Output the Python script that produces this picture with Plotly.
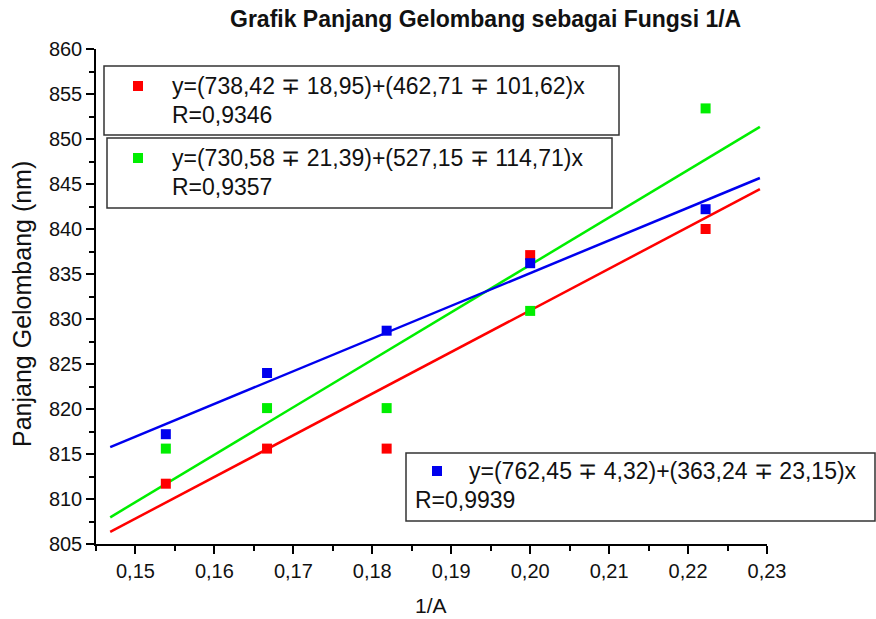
import plotly.graph_objects as go

# ---- data ----
x_vals = [1/6.5, 1/6, 1/5.5, 1/5, 1/4.5]
red_y = [811.7, 815.6, 815.6, 837.1, 840.0]
green_y = [815.6, 820.1, 820.1, 830.9, 853.4]
blue_y = [817.2, 824.0, 828.7, 836.2, 842.2]

fit_x_range = [0.1468, 0.2291]
red_fit = (738.42, 462.71)
green_fit = (730.58, 527.15)
blue_fit = (762.45, 363.24)

red_label = ["y=(738,42 ∓ 18,95)+(462,71 ∓ 101,62)x", "R=0,9346"]
green_label = ["y=(730,58 ∓ 21,39)+(527,15 ∓ 114,71)x", "R=0,9357"]
blue_label = ["y=(762,45 ∓ 4,32)+(363,24 ∓ 23,15)x", "R=0,9939"]

x_ticks = [0.15, 0.16, 0.17, 0.18, 0.19, 0.20, 0.21, 0.22, 0.23]
y_ticks = [805, 810, 815, 820, 825, 830, 835, 840, 845, 850, 855, 860]

RED, GREEN, BLUE = "#ff0000", "#00ee00", "#0000ee"

W, H = 876, 619
L, R, T, B = 96, 109, 49, 75
pw, ph = W - L - R, H - T - B
FAM = "Liberation Sans, Arial, sans-serif"


def px(xp):
    return (xp - L) / pw


def py(yp):
    return 1 - (yp - T) / ph


fig = go.Figure()

for (b, m), col in [(red_fit, RED), (green_fit, GREEN), (blue_fit, BLUE)]:
    fig.add_trace(go.Scatter(
        x=fit_x_range, y=[b + m * xx for xx in fit_x_range], mode="lines",
        line=dict(color=col, width=2.5), showlegend=False, hoverinfo="skip"))

for ys, col in [(green_y, GREEN), (red_y, RED), (blue_y, BLUE)]:
    fig.add_trace(go.Scatter(
        x=x_vals, y=ys, mode="markers",
        marker=dict(symbol="square", size=10, color=col, line=dict(width=0)),
        showlegend=False))

shapes = []
annos = []
font = dict(family=FAM, size=23, color="#111")
boxes = [
    (104, 66, 619, 135, RED, red_label, 138, 86, 170, 170),
    (107, 138, 612, 208, GREEN, green_label, 138, 158, 170, 170),
    (406, 453, 875, 521, BLUE, blue_label, 437, 471, 467, 413),
]
for x0, y0, x1, y1, col, lab, sx, sy, tx, tx2 in boxes:
    shapes.append(dict(type="rect", xref="paper", yref="paper",
                       x0=px(x0), x1=px(x1), y0=py(y1), y1=py(y0),
                       line=dict(color="#333", width=1.5), fillcolor="white", layer="above"))
    shapes.append(dict(type="rect", xref="paper", yref="paper",
                       x0=px(sx - 5), x1=px(sx + 5), y0=py(sy + 5), y1=py(sy - 5),
                       line=dict(width=0), fillcolor=col, layer="above"))
    annos.append(dict(xref="paper", yref="paper", x=px(tx), y=py(sy), text=lab[0],
                      showarrow=False, xanchor="left", yanchor="middle", font=font))
    annos.append(dict(xref="paper", yref="paper", x=px(tx2), y=py(sy + 29),
                      text=lab[1], showarrow=False, xanchor="left", yanchor="middle", font=font))

annos.append(dict(xref="paper", yref="paper", x=px(485), y=py(19),
                  text="<b>Grafik Panjang Gelombang sebagai Fungsi 1/A</b>", showarrow=False,
                  xanchor="center", yanchor="middle",
                  font=dict(family=FAM, size=23, color="#111")))
# axis titles
annos.append(dict(xref="paper", yref="paper", x=px(431), y=py(605), text="1/A",
                  showarrow=False, xanchor="center", yanchor="middle",
                  font=dict(family=FAM, size=21, color="#111")))
annos.append(dict(xref="paper", yref="paper", x=px(22), y=py(304), text="Panjang Gelombang (nm)",
                  showarrow=False, xanchor="center", yanchor="middle", textangle=-90,
                  font=dict(family=FAM, size=25, color="#111")))

fig.update_layout(
    width=W, height=H, margin=dict(l=L, r=R, t=T, b=B),
    paper_bgcolor="white", plot_bgcolor="white",
    separators=",.",
    shapes=shapes, annotations=annos,
    font=dict(family=FAM, size=20, color="#111"),
)
fig.update_xaxes(
    range=[0.145, 0.23], tickvals=x_ticks, tickformat=".2f", automargin=False,
    showline=True, linecolor="black", linewidth=1.5, showgrid=False, zeroline=False,
    ticks="outside", ticklen=8, tickwidth=1.5, tickcolor="black",
    minor=dict(dtick=0.005, tick0=0.145, ticks="outside", ticklen=5, tickwidth=1.5, tickcolor="black", showgrid=False),
    tickfont=dict(size=20),
)
fig.update_yaxes(
    range=[805, 860], tickvals=y_ticks, automargin=False,
    showline=True, linecolor="black", linewidth=1.5, showgrid=False, zeroline=False,
    ticks="outside", ticklen=8, tickwidth=1.5, tickcolor="black",
    minor=dict(dtick=2.5, tick0=805, ticks="outside", ticklen=5, tickwidth=1.5, tickcolor="black", showgrid=False),
    tickfont=dict(size=20),
)

fig.write_html("out.html", config={"displayModeBar": False},
               post_script="document.body.style.margin='0';")
